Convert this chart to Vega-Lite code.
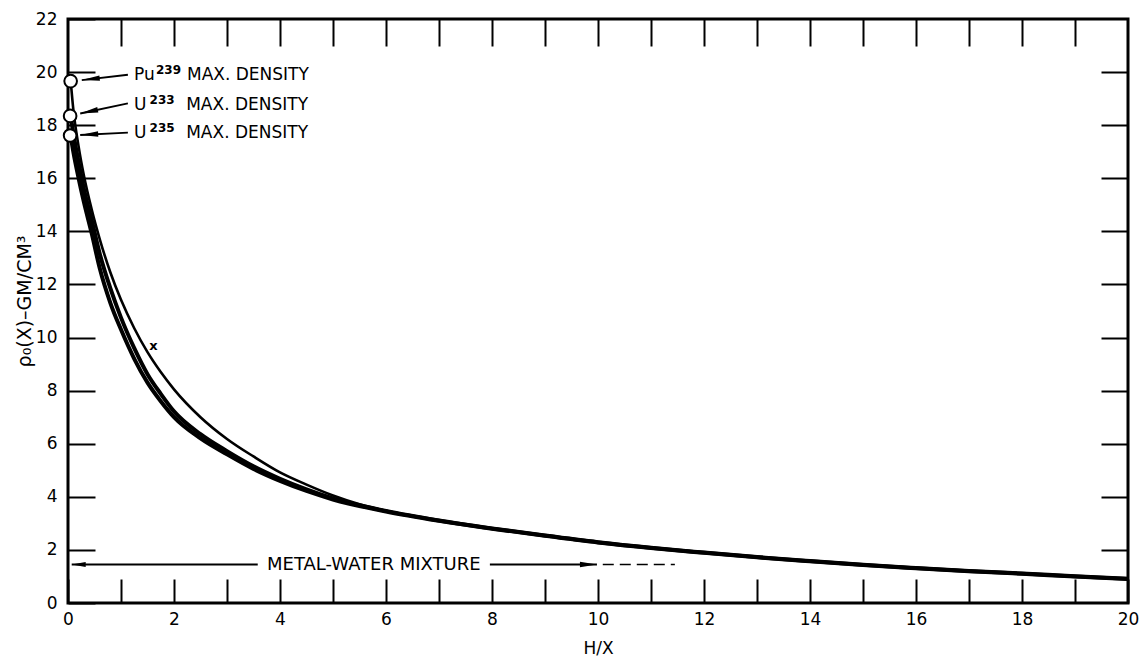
{
  "$schema": "https://vega.github.io/schema/vega-lite/v6.json",
  "width": 1060,
  "height": 584,
  "autosize": "none",
  "padding": {"left": 68, "top": 19, "right": 13, "bottom": 54},
  "background": "white",
  "config": {
    "view": {"stroke": "black", "strokeWidth": 3},
    "font": "DejaVu Sans",
    "axis": {
      "grid": false,
      "domain": false,
      "tickColor": "black",
      "tickWidth": 2,
      "labelColor": "black",
      "labelFont": "DejaVu Sans",
      "labelFontSize": 17,
      "titleFont": "DejaVu Sans",
      "titleColor": "black",
      "titleFontWeight": "normal",
      "labelFlush": false,
      "labelOverlap": false
    }
  },
  "datasets": {
    "curves": [
      {"metal": "U235", "hx": 0.05, "rho": 17.6},
      {"metal": "U235", "hx": 0.1, "rho": 17.0},
      {"metal": "U235", "hx": 0.2, "rho": 16.0},
      {"metal": "U235", "hx": 0.3, "rho": 15.1},
      {"metal": "U235", "hx": 0.45, "rho": 13.9},
      {"metal": "U235", "hx": 0.6, "rho": 12.6},
      {"metal": "U235", "hx": 0.8, "rho": 11.3},
      {"metal": "U235", "hx": 1.0, "rho": 10.3},
      {"metal": "U235", "hx": 1.25, "rho": 9.2},
      {"metal": "U235", "hx": 1.5, "rho": 8.3},
      {"metal": "U235", "hx": 1.75, "rho": 7.6},
      {"metal": "U235", "hx": 2.0, "rho": 7.0},
      {"metal": "U235", "hx": 2.5, "rho": 6.2},
      {"metal": "U235", "hx": 3.0, "rho": 5.6},
      {"metal": "U235", "hx": 3.5, "rho": 5.05},
      {"metal": "U235", "hx": 4.0, "rho": 4.6},
      {"metal": "U235", "hx": 4.5, "rho": 4.22},
      {"metal": "U235", "hx": 5.0, "rho": 3.9},
      {"metal": "U235", "hx": 6.0, "rho": 3.45},
      {"metal": "U235", "hx": 7.0, "rho": 3.1},
      {"metal": "U235", "hx": 8.0, "rho": 2.8},
      {"metal": "U235", "hx": 9.0, "rho": 2.53},
      {"metal": "U235", "hx": 10.0, "rho": 2.28},
      {"metal": "U235", "hx": 11.0, "rho": 2.07},
      {"metal": "U235", "hx": 12.0, "rho": 1.89},
      {"metal": "U235", "hx": 13.0, "rho": 1.72},
      {"metal": "U235", "hx": 14.0, "rho": 1.57},
      {"metal": "U235", "hx": 15.0, "rho": 1.43},
      {"metal": "U235", "hx": 16.0, "rho": 1.31},
      {"metal": "U235", "hx": 17.0, "rho": 1.2},
      {"metal": "U235", "hx": 18.0, "rho": 1.1},
      {"metal": "U235", "hx": 19.0, "rho": 1.0},
      {"metal": "U235", "hx": 20.0, "rho": 0.9},
      {"metal": "U233", "hx": 0.05, "rho": 18.35},
      {"metal": "U233", "hx": 0.1, "rho": 17.7},
      {"metal": "U233", "hx": 0.2, "rho": 16.6},
      {"metal": "U233", "hx": 0.3, "rho": 15.6},
      {"metal": "U233", "hx": 0.45, "rho": 14.4},
      {"metal": "U233", "hx": 0.6, "rho": 13.15},
      {"metal": "U233", "hx": 0.8, "rho": 11.85},
      {"metal": "U233", "hx": 1.0, "rho": 10.75},
      {"metal": "U233", "hx": 1.25, "rho": 9.6},
      {"metal": "U233", "hx": 1.5, "rho": 8.62},
      {"metal": "U233", "hx": 1.75, "rho": 7.88},
      {"metal": "U233", "hx": 2.0, "rho": 7.22},
      {"metal": "U233", "hx": 2.5, "rho": 6.36},
      {"metal": "U233", "hx": 3.0, "rho": 5.72},
      {"metal": "U233", "hx": 3.5, "rho": 5.15},
      {"metal": "U233", "hx": 4.0, "rho": 4.68},
      {"metal": "U233", "hx": 4.5, "rho": 4.28},
      {"metal": "U233", "hx": 5.0, "rho": 3.94},
      {"metal": "U233", "hx": 6.0, "rho": 3.47},
      {"metal": "U233", "hx": 7.0, "rho": 3.11},
      {"metal": "U233", "hx": 8.0, "rho": 2.81},
      {"metal": "U233", "hx": 9.0, "rho": 2.54},
      {"metal": "U233", "hx": 10.0, "rho": 2.29},
      {"metal": "U233", "hx": 11.0, "rho": 2.08},
      {"metal": "U233", "hx": 12.0, "rho": 1.9},
      {"metal": "U233", "hx": 13.0, "rho": 1.73},
      {"metal": "U233", "hx": 14.0, "rho": 1.58},
      {"metal": "U233", "hx": 15.0, "rho": 1.44},
      {"metal": "U233", "hx": 16.0, "rho": 1.32},
      {"metal": "U233", "hx": 17.0, "rho": 1.21},
      {"metal": "U233", "hx": 18.0, "rho": 1.11},
      {"metal": "U233", "hx": 19.0, "rho": 1.01},
      {"metal": "U233", "hx": 20.0, "rho": 0.91},
      {"metal": "Pu239", "hx": 0.05, "rho": 19.7},
      {"metal": "Pu239", "hx": 0.1, "rho": 18.6},
      {"metal": "Pu239", "hx": 0.2, "rho": 17.2},
      {"metal": "Pu239", "hx": 0.3, "rho": 16.1},
      {"metal": "Pu239", "hx": 0.45, "rho": 14.8},
      {"metal": "Pu239", "hx": 0.6, "rho": 13.7},
      {"metal": "Pu239", "hx": 0.8, "rho": 12.45},
      {"metal": "Pu239", "hx": 1.0, "rho": 11.42},
      {"metal": "Pu239", "hx": 1.25, "rho": 10.35},
      {"metal": "Pu239", "hx": 1.5, "rho": 9.45},
      {"metal": "Pu239", "hx": 1.75, "rho": 8.7},
      {"metal": "Pu239", "hx": 2.0, "rho": 8.05},
      {"metal": "Pu239", "hx": 2.5, "rho": 7.0},
      {"metal": "Pu239", "hx": 3.0, "rho": 6.18},
      {"metal": "Pu239", "hx": 3.5, "rho": 5.52},
      {"metal": "Pu239", "hx": 4.0, "rho": 4.92},
      {"metal": "Pu239", "hx": 4.5, "rho": 4.46},
      {"metal": "Pu239", "hx": 5.0, "rho": 4.05},
      {"metal": "Pu239", "hx": 5.5, "rho": 3.72},
      {"metal": "Pu239", "hx": 6.0, "rho": 3.47},
      {"metal": "Pu239", "hx": 7.0, "rho": 3.11},
      {"metal": "Pu239", "hx": 8.0, "rho": 2.81},
      {"metal": "Pu239", "hx": 9.0, "rho": 2.54},
      {"metal": "Pu239", "hx": 10.0, "rho": 2.29},
      {"metal": "Pu239", "hx": 11.0, "rho": 2.08},
      {"metal": "Pu239", "hx": 12.0, "rho": 1.9},
      {"metal": "Pu239", "hx": 13.0, "rho": 1.73},
      {"metal": "Pu239", "hx": 14.0, "rho": 1.58},
      {"metal": "Pu239", "hx": 15.0, "rho": 1.44},
      {"metal": "Pu239", "hx": 16.0, "rho": 1.32},
      {"metal": "Pu239", "hx": 17.0, "rho": 1.21},
      {"metal": "Pu239", "hx": 18.0, "rho": 1.11},
      {"metal": "Pu239", "hx": 19.0, "rho": 1.01},
      {"metal": "Pu239", "hx": 20.0, "rho": 0.91}
    ],
    "maxpts": [
      {"metal": "Pu239", "hx": 0.05, "rho": 19.66},
      {"metal": "U233", "hx": 0.04, "rho": 18.35},
      {"metal": "U235", "hx": 0.04, "rho": 17.61}
    ],
    "arrows": [
      {"id": "Pu239", "x1": 1.13, "y1": 19.9, "x2": 0.26, "y2": 19.7},
      {"id": "U233", "x1": 1.13, "y1": 18.82, "x2": 0.23, "y2": 18.44},
      {"id": "U235", "x1": 1.13, "y1": 17.72, "x2": 0.23, "y2": 17.63},
      {"id": "mwl", "x1": 3.58, "y1": 1.45, "x2": 0.07, "y2": 1.45},
      {"id": "mwr", "x1": 7.96, "y1": 1.45, "x2": 9.98, "y2": 1.45}
    ],
    "dashed": [
      {"x1": 10.09, "y1": 1.45, "x2": 11.45, "y2": 1.45}
    ],
    "labels": [
      {"hx": 1.245, "rho": 19.89, "text": "Pu"},
      {"hx": 2.245, "rho": 19.89, "text": "MAX. DENSITY"},
      {"hx": 1.245, "rho": 18.75, "text": "U"},
      {"hx": 2.23, "rho": 18.75, "text": "MAX. DENSITY"},
      {"hx": 1.245, "rho": 17.7, "text": "U"},
      {"hx": 2.23, "rho": 17.7, "text": "MAX. DENSITY"}
    ],
    "sups": [
      {"hx": 1.66, "rho": 20.08, "text": "239"},
      {"hx": 1.54, "rho": 18.94, "text": "233"},
      {"hx": 1.54, "rho": 17.89, "text": "235"}
    ],
    "mw": [
      {"hx": 5.77, "rho": 1.45, "text": "METAL-WATER MIXTURE"}
    ],
    "marker": [
      {"hx": 1.61, "rho": 9.7, "text": "x"}
    ]
  },
  "layer": [
    {
      "data": {"name": "curves"},
      "transform": [{"filter": "datum.metal !== 'Pu239'"}],
      "mark": {"type": "line", "color": "black", "strokeWidth": 4, "interpolate": "monotone"},
      "encoding": {
        "x": {
          "field": "hx", "type": "quantitative",
          "scale": {"domain": [0, 20], "nice": false, "zero": false},
          "axis": {
            "orient": "bottom",
            "values": [0,1,2,3,4,5,6,7,8,9,10,11,12,13,14,15,16,17,18,19,20],
            "labelExpr": "datum.value % 2 === 0 ? datum.label : ''",
            "tickSize": -24,
            "labelPadding": 32,
            "title": "H/X",
            "titleFontSize": 17,
            "titleX": 530,
            "titleY": 45,
            "titleBaseline": "middle"
          }
        },
        "y": {
          "field": "rho", "type": "quantitative",
          "scale": {"domain": [0, 22], "nice": false, "zero": false},
          "axis": {
            "orient": "left",
            "values": [0,2,4,6,8,10,12,14,16,18,20,22],
            "tickSize": -27,
            "labelPadding": 38,
            "title": "ρ₀(X)–GM/CM³",
            "titleFontSize": 19,
            "titleAngle": -90,
            "titleX": -44,
            "titleY": 282,
            "titleAlign": "center",
            "titleBaseline": "middle"
          }
        },
        "detail": {"field": "metal"}
      }
    },
    {
      "data": {"name": "curves"},
      "transform": [{"filter": "datum.metal === 'Pu239'"}],
      "mark": {"type": "line", "color": "black", "strokeWidth": 2.6, "interpolate": "monotone"},
      "encoding": {
        "x": {
          "field": "hx", "type": "quantitative",
          "axis": {
            "orient": "top",
            "values": [1,2,3,4,5,6,7,8,9,10,11,12,13,14,15,16,17,18,19],
            "labels": false,
            "tickSize": -27,
            "title": null
          }
        },
        "y": {
          "field": "rho", "type": "quantitative",
          "axis": {
            "orient": "right",
            "values": [2,4,6,8,10,12,14,16,18,20],
            "labels": false,
            "tickSize": -27,
            "title": null
          }
        }
      }
    },
    {
      "data": {"name": "maxpts"},
      "mark": {"type": "point", "shape": "circle", "filled": true, "fill": "white", "stroke": "black", "strokeWidth": 2, "size": 160, "opacity": 1},
      "encoding": {
        "x": {"field": "hx", "type": "quantitative", "axis": null},
        "y": {"field": "rho", "type": "quantitative", "axis": null}
      }
    },
    {
      "data": {"name": "arrows"},
      "mark": {"type": "rule", "color": "black", "strokeWidth": 1.8},
      "encoding": {
        "x": {"field": "x1", "type": "quantitative", "axis": null},
        "y": {"field": "y1", "type": "quantitative", "axis": null},
        "x2": {"field": "x2"},
        "y2": {"field": "y2"}
      }
    },
    {
      "data": {"name": "dashed"},
      "mark": {"type": "rule", "color": "black", "strokeWidth": 1.5, "strokeDash": [11, 6]},
      "encoding": {
        "x": {"field": "x1", "type": "quantitative", "axis": null},
        "y": {"field": "y1", "type": "quantitative", "axis": null},
        "x2": {"field": "x2"},
        "y2": {"field": "y2"}
      }
    },
    {
      "data": {"name": "arrows"},
      "transform": [{"filter": "datum.id === 'Pu239'"}],
      "mark": {"type": "point", "shape": "M0,0L2,-0.3L2,0.3Z", "filled": true, "color": "black", "opacity": 1, "size": 324, "angle": -6},
      "encoding": {
        "x": {"field": "x2", "type": "quantitative", "axis": null},
        "y": {"field": "y2", "type": "quantitative", "axis": null}
      }
    },
    {
      "data": {"name": "arrows"},
      "transform": [{"filter": "datum.id === 'U233'"}],
      "mark": {"type": "point", "shape": "M0,0L2,-0.3L2,0.3Z", "filled": true, "color": "black", "opacity": 1, "size": 324, "angle": -12},
      "encoding": {
        "x": {"field": "x2", "type": "quantitative", "axis": null},
        "y": {"field": "y2", "type": "quantitative", "axis": null}
      }
    },
    {
      "data": {"name": "arrows"},
      "transform": [{"filter": "datum.id === 'U235'"}],
      "mark": {"type": "point", "shape": "M0,0L2,-0.3L2,0.3Z", "filled": true, "color": "black", "opacity": 1, "size": 324, "angle": -3},
      "encoding": {
        "x": {"field": "x2", "type": "quantitative", "axis": null},
        "y": {"field": "y2", "type": "quantitative", "axis": null}
      }
    },
    {
      "data": {"name": "arrows"},
      "transform": [{"filter": "datum.id === 'mwl'"}],
      "mark": {"type": "point", "shape": "M0,0L2,-0.35L2,0.35Z", "filled": true, "color": "black", "opacity": 1, "size": 196},
      "encoding": {
        "x": {"field": "x2", "type": "quantitative", "axis": null},
        "y": {"field": "y2", "type": "quantitative", "axis": null}
      }
    },
    {
      "data": {"name": "arrows"},
      "transform": [{"filter": "datum.id === 'mwr'"}],
      "mark": {"type": "point", "shape": "M0,0L-2,-0.32L-2,0.32Z", "filled": true, "color": "black", "opacity": 1, "size": 289},
      "encoding": {
        "x": {"field": "x2", "type": "quantitative", "axis": null},
        "y": {"field": "y2", "type": "quantitative", "axis": null}
      }
    },
    {
      "data": {"name": "labels"},
      "mark": {"type": "text", "align": "left", "baseline": "middle", "font": "DejaVu Sans", "fontSize": 17, "color": "black"},
      "encoding": {
        "x": {"field": "hx", "type": "quantitative", "axis": null},
        "y": {"field": "rho", "type": "quantitative", "axis": null},
        "text": {"field": "text"}
      }
    },
    {
      "data": {"name": "sups"},
      "mark": {"type": "text", "align": "left", "baseline": "middle", "font": "DejaVu Sans", "fontSize": 12, "fontWeight": "bold", "color": "black"},
      "encoding": {
        "x": {"field": "hx", "type": "quantitative", "axis": null},
        "y": {"field": "rho", "type": "quantitative", "axis": null},
        "text": {"field": "text"}
      }
    },
    {
      "data": {"name": "mw"},
      "mark": {"type": "text", "align": "center", "baseline": "middle", "font": "DejaVu Sans", "fontSize": 18, "color": "black"},
      "encoding": {
        "x": {"field": "hx", "type": "quantitative", "axis": null},
        "y": {"field": "rho", "type": "quantitative", "axis": null},
        "text": {"field": "text"}
      }
    },
    {
      "data": {"name": "marker"},
      "mark": {"type": "text", "align": "center", "baseline": "middle", "font": "DejaVu Sans", "fontSize": 13, "fontWeight": "bold", "color": "black"},
      "encoding": {
        "x": {"field": "hx", "type": "quantitative", "axis": null},
        "y": {"field": "rho", "type": "quantitative", "axis": null},
        "text": {"field": "text"}
      }
    }
  ],
  "resolve": {"axis": {"x": "independent", "y": "independent"}}
}
